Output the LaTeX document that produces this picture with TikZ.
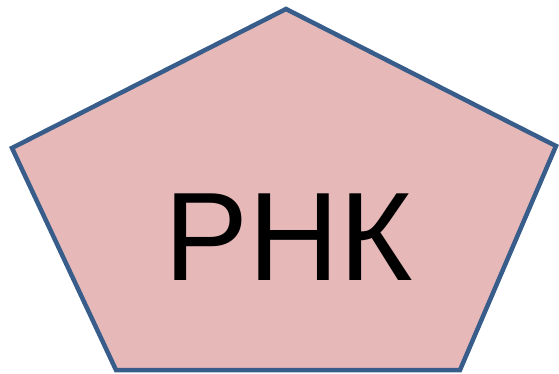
\documentclass[tikz,border=0pt]{standalone}
\usepackage{fontspec}
\setmainfont{Liberation Sans}
\definecolor{rnafill}{RGB}{230, 185, 184}
\definecolor{rnaedge}{RGB}{56, 93, 138}
\usepackage{tikz}
\usetikzlibrary{positioning}

\begin{document}
\begin{tikzpicture}[x=1pt,y=-1pt]
	\useasboundingbox (0,0) rectangle (559,374);
	
	\draw[fill=rnafill,draw=rnaedge,line width=4.5pt,line join=miter] (286,9) -- (556,146) -- (460,370) -- (116,370) -- (12,148) -- cycle;
	
	\node[font=\fontsize{126}{130}\selectfont,anchor=base,inner sep=0pt] (rna) at (289,280) {РНК};
\end{tikzpicture}
\end{document}
